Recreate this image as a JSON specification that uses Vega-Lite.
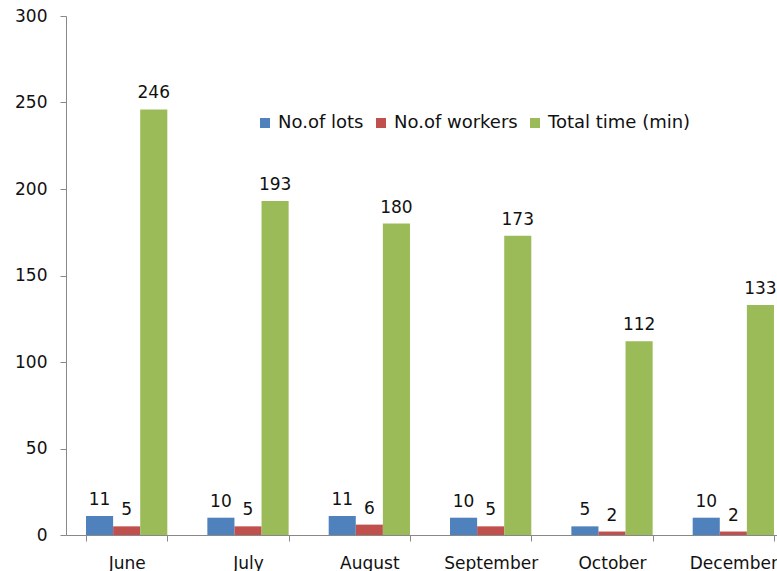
{
  "$schema": "https://vega.github.io/schema/vega-lite/v6.json",
  "width": 728,
  "height": 519,
  "autosize": {"type": "none"},
  "padding": {"left": 66, "top": 16, "right": 0, "bottom": 36},
  "background": "white",
  "config": {
    "view": {"stroke": null},
    "font": "DejaVu Sans"
  },
  "data": {
    "values": [
      {"month": "June", "series": "No.of lots", "value": 11},
      {"month": "June", "series": "No.of workers", "value": 5},
      {"month": "June", "series": "Total time (min)", "value": 246},
      {"month": "July", "series": "No.of lots", "value": 10},
      {"month": "July", "series": "No.of workers", "value": 5},
      {"month": "July", "series": "Total time (min)", "value": 193},
      {"month": "August", "series": "No.of lots", "value": 11},
      {"month": "August", "series": "No.of workers", "value": 6},
      {"month": "August", "series": "Total time (min)", "value": 180},
      {"month": "September", "series": "No.of lots", "value": 10},
      {"month": "September", "series": "No.of workers", "value": 5},
      {"month": "September", "series": "Total time (min)", "value": 173},
      {"month": "October", "series": "No.of lots", "value": 5},
      {"month": "October", "series": "No.of workers", "value": 2},
      {"month": "October", "series": "Total time (min)", "value": 112},
      {"month": "December", "series": "No.of lots", "value": 10},
      {"month": "December", "series": "No.of workers", "value": 2},
      {"month": "December", "series": "Total time (min)", "value": 133}
    ]
  },
  "encoding": {
    "x": {
      "field": "month",
      "type": "nominal",
      "sort": ["June", "July", "August", "September", "October", "December"],
      "scale": {"paddingInner": 0.33, "paddingOuter": 0.165},
      "axis": {
        "title": null,
        "labelAngle": 0,
        "labelFontSize": 17,
        "labelColor": "#111",
        "labelPadding": 14,
        "tickBand": "extent",
        "tickSize": 6,
        "tickColor": "#888",
        "domainColor": "#888"
      }
    },
    "xOffset": {
      "field": "series",
      "type": "nominal",
      "sort": ["No.of lots", "No.of workers", "Total time (min)"]
    },
    "y": {
      "field": "value",
      "type": "quantitative",
      "scale": {"domain": [0, 300], "nice": false},
      "axis": {
        "title": null,
        "values": [0, 50, 100, 150, 200, 250, 300],
        "grid": false,
        "labelFontSize": 17,
        "labelColor": "#111",
        "labelPadding": 13,
        "tickSize": 6,
        "tickColor": "#888",
        "domainColor": "#888"
      }
    }
  },
  "layer": [
    {
      "mark": {"type": "bar"},
      "encoding": {
        "color": {
          "field": "series",
          "type": "nominal",
          "sort": ["No.of lots", "No.of workers", "Total time (min)"],
          "scale": {"range": ["#4F81BD", "#C0504D", "#9BBB59"]},
          "legend": {
            "title": null,
            "orient": "none",
            "direction": "horizontal",
            "legendX": 190,
            "legendY": 98,
            "symbolType": "square",
            "symbolSize": 100,
            "symbolStrokeWidth": 0,
            "labelFontSize": 18,
            "labelColor": "#111",
            "columnPadding": 8,
            "labelOffset": 4
          }
        }
      }
    },
    {
      "mark": {"type": "text", "dy": -7, "fontSize": 17, "color": "#111", "baseline": "bottom"},
      "encoding": {
        "text": {"field": "value", "type": "quantitative"}
      }
    }
  ]
}
